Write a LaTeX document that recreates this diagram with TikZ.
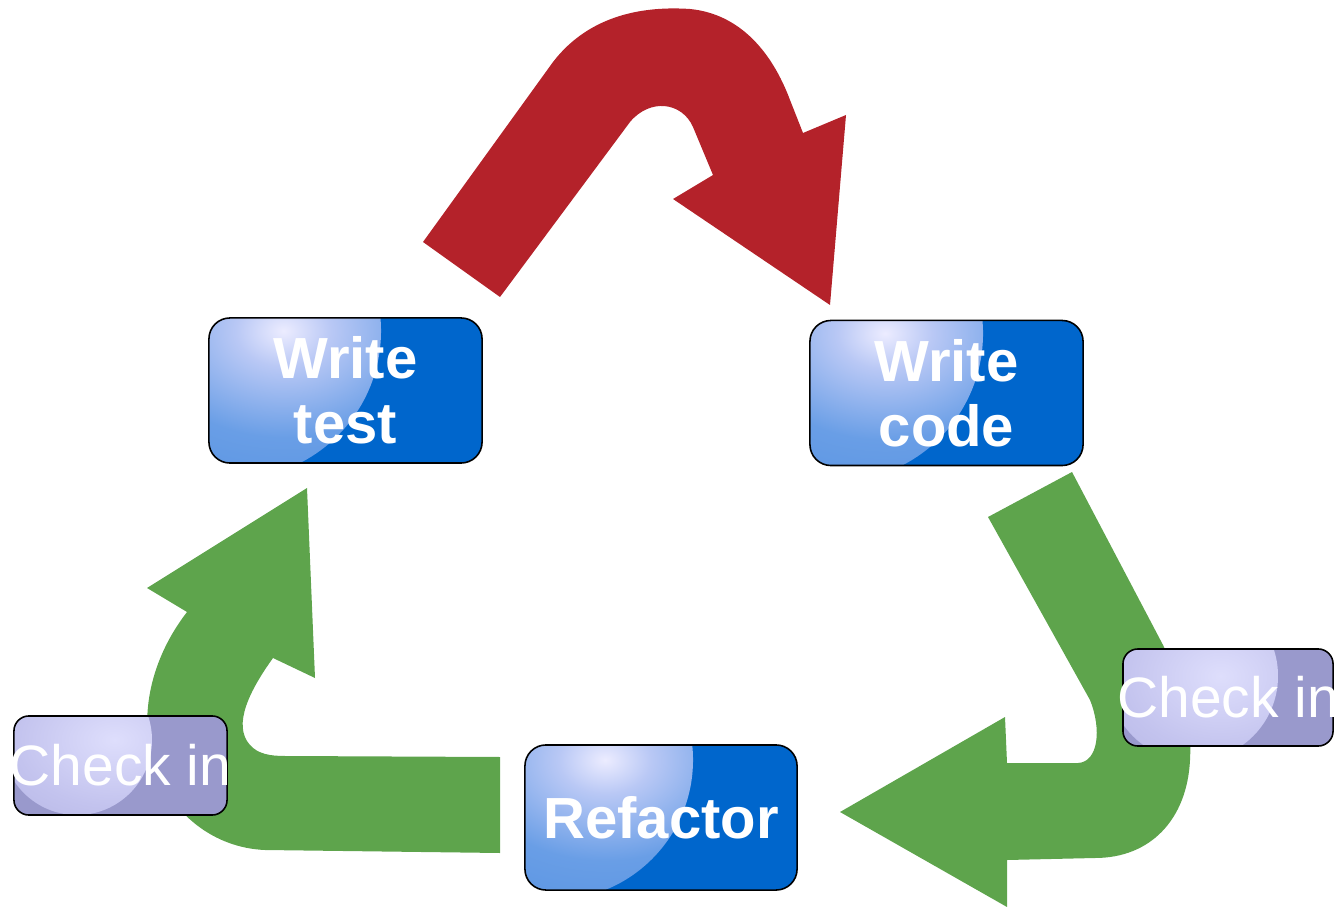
\documentclass[tikz,border=0pt]{standalone}
\usepackage{fontspec}
\setmainfont{Liberation Sans}

\definecolor{arrowred}{RGB}{180,34,42}
\definecolor{arrowgreen}{RGB}{94,164,76}
\definecolor{stepblue}{RGB}{0,102,204}
\definecolor{checkviolet}{RGB}{153,153,204}
\definecolor{blueglowA}{RGB}{236,236,255}
\definecolor{blueglowB}{RGB}{185,200,245}
\definecolor{blueglowC}{RGB}{105,158,230}
\definecolor{blueglowD}{RGB}{62,132,220}
\definecolor{violetglowA}{RGB}{222,222,252}
\definecolor{violetglowB}{RGB}{195,195,238}
\definecolor{violetglowC}{RGB}{170,170,221}

% soft highlight in the upper left of each box
\pgfdeclareradialshading{blueglow}{\pgfpointorigin}{color(0bp)=(blueglowA); color(6bp)=(blueglowB); color(18bp)=(blueglowC); color(50bp)=(blueglowD)}
\pgfdeclareradialshading{violetglow}{\pgfpointorigin}{color(0bp)=(violetglowA); color(22bp)=(violetglowB); color(50bp)=(violetglowC)}

\tikzset{
  glow/.style n args={3}{path picture={
    \shade[shading=#1] ([shift={(#2)}]path picture bounding box.north west) circle[radius=#3];}},
  stepbox/.style={draw=black, line width=0.45pt, rounded corners=0.21cm,
    fill=stepblue, minimum width=2.73cm, minimum height=1.45cm, inner sep=0pt,
    text=white, align=center, font=\fontsize{16.5}{18.5}\selectfont\bfseries},
  checkbox/.style={draw=black, line width=0.45pt, rounded corners=0.15cm,
    fill=checkviolet, minimum width=2.12cm, minimum height=0.98cm, inner sep=0pt,
    text=white, font=\fontsize{16.2}{18}\selectfont},
  redarrow/.style={fill=arrowred},
  greenarrow/.style={fill=arrowgreen}
}

\begin{document}
\begin{tikzpicture}[x=0.01cm, y=-0.01cm]
\useasboundingbox (0,0) rectangle (1334,907);
\clip (0,0) rectangle (1334,907);

% red arrow: write test -> write code
\path[redarrow] (423,242) -- (553,62)
  .. controls (590,14) and (645,6) .. (690,9)
  .. controls (740,14) and (772,52) .. (790,100)
  -- (803,133) -- (846,115) -- (830,305) -- (673,199) -- (713,175) -- (693,127)
  .. controls (682,102) and (650,98) .. (630,122)
  -- (500,297) -- cycle;

% green arrow: write code -> refactor
\path[greenarrow] (988,517) -- (1072,472) -- (1163,645)
  .. controls (1185,690) and (1192,720) .. (1190,760)
  .. controls (1187,820) and (1150,858) .. (1095,858)
  -- (1007,860) -- (1007,907) -- (840,812) -- (1005,717) -- (1007,763) -- (1078,763)
  .. controls (1098,762) and (1102,730) .. (1090,700) -- cycle;

% green arrow: refactor -> write test
\path[greenarrow] (500,757) -- (500,853) -- (265,850)
  .. controls (215,848) and (170,815) .. (152,760)
  .. controls (140,715) and (150,660) .. (187,612)
  -- (147,588) -- (307,488) -- (315,678) -- (273,658)
  .. controls (250,690) and (232,725) .. (250,745)
  .. controls (258,754) and (270,756) .. (285,756) -- cycle;

% steps of the cycle
\node[stepbox, glow={blueglow}{0.24cm,-0.13cm}{1.48cm}] (wt) at (345.5,390.5) {Write\\test};
\node[stepbox, glow={blueglow}{0.25cm,-0.13cm}{1.48cm}] (wc) at (946.5,393) {Write\\code};
\node[stepbox, minimum width=2.72cm, glow={blueglow}{0.28cm,-0.15cm}{1.40cm}] (rf) at (661,817.5) {Refactor};

% check-in points
\node[checkbox, minimum width=2.10cm, minimum height=0.97cm, glow={violetglow}{0.70cm,-0.27cm}{0.85cm}] (ciright) at (1228,697.5) {\makebox[0pt][c]{Check in}};
\node[checkbox, minimum width=2.13cm, minimum height=0.99cm, glow={violetglow}{0.63cm,-0.24cm}{0.75cm}] (cileft) at (120.5,765.5) {\makebox[0pt][c]{Check in}};
\end{tikzpicture}
\end{document}
